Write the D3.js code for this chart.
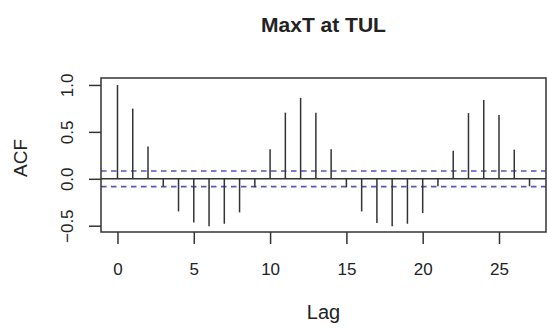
<!DOCTYPE html>
<html>
<head>
<meta charset="utf-8">
<script src="https://cdn.jsdelivr.net/npm/d3@7"></script>
<style>
  body { margin: 0; background: #fff; }
  text { font-family: "Liberation Sans", Arial, sans-serif; fill: #222; }
</style>
</head>
<body>
<div id="chart"></div>
<script>
const lags = d3.range(0, 28)
const acfValues = [1.0, 0.748, 0.344, -0.082, -0.348, -0.465, -0.507, -0.479, -0.358, -0.09,
  0.316, 0.705, 0.862, 0.705, 0.316, -0.09, -0.348, -0.472, -0.507, -0.479,
  -0.365, -0.08, 0.30, 0.70, 0.84, 0.68, 0.31, -0.08]
const confLimit = 0.083
const xTicks = [0, 5, 10, 15, 20, 25]
const yTicks = [-0.5, 0.0, 0.5, 1.0]

const W = 547, H = 331
const MARGIN = { TOP: 78, BOTTOM: 99, LEFT: 101, RIGHT: 1 }
const WIDTH = W - MARGIN.LEFT - MARGIN.RIGHT
const HEIGHT = H - MARGIN.TOP - MARGIN.BOTTOM

const svg = d3.select("#chart").append("svg")
    .attr("width", W)
    .attr("height", H)

const g = svg.append("g")
    .attr("transform", `translate(${MARGIN.LEFT}, ${MARGIN.TOP})`)

const x = d3.scaleLinear().domain([-1.08, 28.08]).range([0, WIDTH])
const y = d3.scaleLinear().domain([-0.567, 1.074]).range([HEIGHT, 0])

// confidence bands
g.selectAll(".ci")
  .data([confLimit, -confLimit])
  .enter().append("line")
    .attr("x1", 0).attr("x2", WIDTH)
    .attr("y1", d => y(d)).attr("y2", d => y(d))
    .attr("stroke", "#5656b8")
    .attr("stroke-width", 1.6)
    .attr("stroke-dasharray", "5.5,4.5")

// zero line
g.append("line")
    .attr("x1", 0).attr("x2", WIDTH)
    .attr("y1", y(0)).attr("y2", y(0))
    .attr("stroke", "#333")
    .attr("stroke-width", 1.4)

// spikes
g.selectAll(".spike")
  .data(lags)
  .enter().append("line")
    .attr("class", "spike")
    .attr("x1", d => x(d)).attr("x2", d => x(d))
    .attr("y1", y(0)).attr("y2", d => y(acfValues[d]))
    .attr("stroke", "#333")
    .attr("stroke-width", 1.5)

// box
g.append("rect")
    .attr("width", WIDTH).attr("height", HEIGHT)
    .attr("fill", "none")
    .attr("stroke", "#333")
    .attr("stroke-width", 1.5)

const xAxis = g.append("g")
    .attr("transform", `translate(0, ${HEIGHT})`)
    .call(d3.axisBottom(x).tickValues(xTicks).tickSize(12).tickFormat(d3.format("d")))
xAxis.select(".domain").remove()

const yAxis = g.append("g")
    .call(d3.axisLeft(y).tickValues(yTicks).tickSize(12).tickFormat(d3.format(".1f")))
yAxis.select(".domain").remove()

g.selectAll(".tick line").attr("stroke", "#333").attr("stroke-width", 1.5)
xAxis.selectAll("text")
    .style("font-size", "17px").attr("fill", "#222")
    .attr("y", 43).attr("dy", 0)
yAxis.selectAll("text")
    .style("font-size", "17px").attr("fill", "#222")
    .attr("text-anchor", "middle")
    .attr("x", 0).attr("y", 0).attr("dy", 0)
    .attr("transform", "translate(-28, 0) rotate(-90)")

// titles
svg.append("text")
    .attr("x", MARGIN.LEFT + WIDTH / 2)
    .attr("y", 32)
    .attr("text-anchor", "middle")
    .style("font-size", "21px")
    .style("font-weight", "bold")
    .text("MaxT at TUL")

svg.append("text")
    .attr("x", MARGIN.LEFT + WIDTH / 2)
    .attr("y", 319)
    .attr("text-anchor", "middle")
    .style("font-size", "20px")
    .text("Lag")

svg.append("text")
    .attr("transform", "translate(27, 158) rotate(-90)")
    .attr("text-anchor", "middle")
    .style("font-size", "19px")
    .text("ACF")
</script>
</body>
</html>
